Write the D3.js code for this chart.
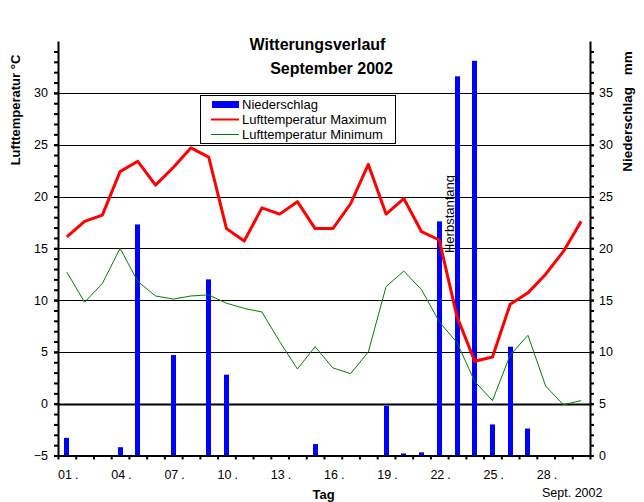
<!DOCTYPE html>
<html>
<head>
<meta charset="utf-8">
<script src="https://cdn.jsdelivr.net/npm/d3@7"></script>
<style>
  html, body { margin: 0; padding: 0; background: #fff; }
  svg { display: block; font-family: "Liberation Sans", Arial, Helvetica, sans-serif; }
</style>
</head>
<body>
<svg id="chart" width="644" height="502"></svg>
<script>
// ---- data ----
const days = [1,2,3,4,5,6,7,8,9,10,11,12,13,14,15,16,17,18,19,20,21,22,23,24,25,26,27,28,29,30];
const dayLabels = ["01","04","07","10","13","16","19","22","25","28"];
const tempMax = [16.1,17.6,18.2,22.4,23.4,21.1,22.8,24.7,23.8,16.9,15.7,18.9,18.3,19.5,16.9,16.9,19.3,23.1,18.3,19.8,16.6,15.8,8.4,4.1,4.5,9.6,10.7,12.5,14.7,17.6];
const tempMin = [12.7,9.8,11.6,15.0,11.8,10.4,10.1,10.4,10.5,9.7,9.2,8.85,6.0,3.35,5.5,3.45,2.9,5.0,11.3,12.8,11.0,7.9,5.9,2.15,0.3,4.7,6.6,1.7,-0.1,0.3];
const precip = [1.7,0,0,0.8,22.3,0,9.7,0,17.0,7.8,0,0,0,0,1.1,0,0,0,4.8,0.2,0.3,22.6,36.6,38.1,3.0,10.5,2.6,0,0,0];
const tempTicks = [-5,0,5,10,15,20,25,30];
const precipTicks = [0,5,10,15,20,25,30,35];
const legendItems = ["Niederschlag","Lufttemperatur Maximum","Lufttemperatur Minimum"];

// ---- layout ----
const L = 58, R = 590, T = 41.1, B = 455.5;
const svg = d3.select("#chart");

const xb = d3.scaleLinear().domain([0, days.length]).range([L, R]);
const xc = d => xb(d - 0.5);
const yT = d3.scaleLinear().domain([-5, 35]).range([B, T]);
const yP = d3.scaleLinear().domain([0, 40]).range([B, T]);

// gridlines
svg.append("g").selectAll("line")
  .data(tempTicks.filter(t => t > -5))
  .join("line")
  .attr("x1", L).attr("x2", R)
  .attr("y1", d => Math.round(yT(d)) + 0.5).attr("y2", d => Math.round(yT(d)) + 0.5)
  .attr("stroke", "#000")
  .attr("stroke-width", d => d === 0 ? 2 : 1);

// bars
svg.append("g").selectAll("rect")
  .data(days.map((d, i) => ({d, v: precip[i]})).filter(o => o.v > 0))
  .join("rect")
  .attr("x", o => Math.round(xc(o.d) - 2.5))
  .attr("width", 5)
  .attr("y", o => yP(o.v))
  .attr("height", o => yP(0) - yP(o.v))
  .attr("fill", "#0000ff");

// lines
const line = arr => d3.line().x((v, i) => xc(days[i])).y(v => yT(v))(arr);
svg.append("path").attr("d", line(tempMin))
  .attr("fill", "none").attr("stroke", "#008000").attr("stroke-width", 1);
svg.append("path").attr("d", line(tempMax))
  .attr("fill", "none").attr("stroke", "#ff0000").attr("stroke-width", 3)
  .attr("stroke-linejoin", "round");

// legend
const lg = svg.append("g");
lg.append("rect").attr("x", 200.5).attr("y", 95.5).attr("width", 195).attr("height", 48)
  .attr("fill", "#fff").attr("stroke", "#000").attr("stroke-width", 1);
const lgY = [108.5, 123.5, 138.5];
lg.append("rect").attr("x", 212).attr("y", 101).attr("width", 27).attr("height", 7).attr("fill", "#0000ff");
lg.append("line").attr("x1", 211).attr("x2", 239).attr("y1", 119.5).attr("y2", 119.5)
  .attr("stroke", "#ff0000").attr("stroke-width", 2);
lg.append("line").attr("x1", 211).attr("x2", 239).attr("y1", 134.5).attr("y2", 134.5)
  .attr("stroke", "#008000").attr("stroke-width", 1);
lg.selectAll("text.lt").data(legendItems).join("text")
  .attr("class", "lt")
  .attr("x", 242).attr("y", (d, i) => lgY[i])
  .attr("font-size", 13).text(d => d);

// axes
function styleAxis(g) {
  g.selectAll(".tick line").attr("stroke", "#000").attr("stroke-width", 2);
  g.select(".domain").attr("stroke", "#000").attr("stroke-width", 2);
  g.selectAll("text").attr("fill", "#000").attr("font-size", 12.5)
   .attr("font-family", "'Liberation Sans', Arial, sans-serif");
}
const minorT = d3.range(-5, 35);
const gL = svg.append("g").attr("transform", `translate(${L},0)`)
  .call(d3.axisLeft(yT).tickValues(minorT).tickSize(4).tickSizeOuter(0).tickFormat(""));
styleAxis(gL);
const gL2 = svg.append("g").attr("transform", `translate(${L},0)`)
  .call(d3.axisLeft(yT).tickValues(tempTicks).tickSize(4).tickPadding(6).tickSizeOuter(0));
styleAxis(gL2); gL2.select(".domain").remove();

const minorP = d3.range(0, 40);
const gR = svg.append("g").attr("transform", `translate(${R},0)`)
  .call(d3.axisRight(yP).tickValues(minorP).tickSize(4).tickSizeOuter(0).tickFormat(""));
styleAxis(gR);
const gR2 = svg.append("g").attr("transform", `translate(${R},0)`)
  .call(d3.axisRight(yP).tickValues(precipTicks).tickSize(4).tickPadding(5).tickSizeOuter(0));
styleAxis(gR2); gR2.select(".domain").remove();

const gB = svg.append("g").attr("transform", `translate(0,${B})`)
  .call(d3.axisBottom(xb).tickValues(d3.range(0, days.length + 1)).tickSize(4).tickSizeOuter(0).tickFormat(""));
styleAxis(gB);

// x labels
const xl = svg.append("g").selectAll("text").data(dayLabels).join("text")
  .attr("x", d => xb(+d - 1)).attr("y", 479)
  .attr("font-size", 12.5);
xl.append("tspan").text(d => d);
xl.append("tspan").attr("dx", 3).text(".");

svg.append("text").attr("x", 542).attr("y", 497).attr("font-size", 12.5).text("Sept. 2002");
svg.append("text").attr("x", 323.5).attr("y", 499).attr("text-anchor", "middle")
  .attr("font-size", 13).attr("font-weight", "bold").text("Tag");

// titles
svg.append("text").attr("x", 317.5).attr("y", 50).attr("text-anchor", "middle")
  .attr("font-size", 16).attr("font-weight", "bold").text("Witterungsverlauf");
svg.append("text").attr("x", 331.5).attr("y", 73.5).attr("text-anchor", "middle")
  .attr("font-size", 16).attr("font-weight", "bold").text("September 2002");

svg.append("text").attr("transform", "translate(19.5,110) rotate(-90)").attr("text-anchor", "middle")
  .attr("font-size", 13).attr("font-weight", "bold").text("Lufttemperatur °C");
const rt = svg.append("text").attr("transform", "translate(631.5,111.5) rotate(-90)").attr("text-anchor", "middle")
  .attr("font-size", 13.5).attr("font-weight", "bold");
rt.append("tspan").text("Niederschlag");
rt.append("tspan").attr("dx", 8).text(" mm");

svg.append("text").attr("transform", `translate(${xc(22) + 15},214) rotate(-90)`).attr("text-anchor", "middle")
  .attr("font-size", 13).text("Herbstanfang");
</script>
</body>
</html>
